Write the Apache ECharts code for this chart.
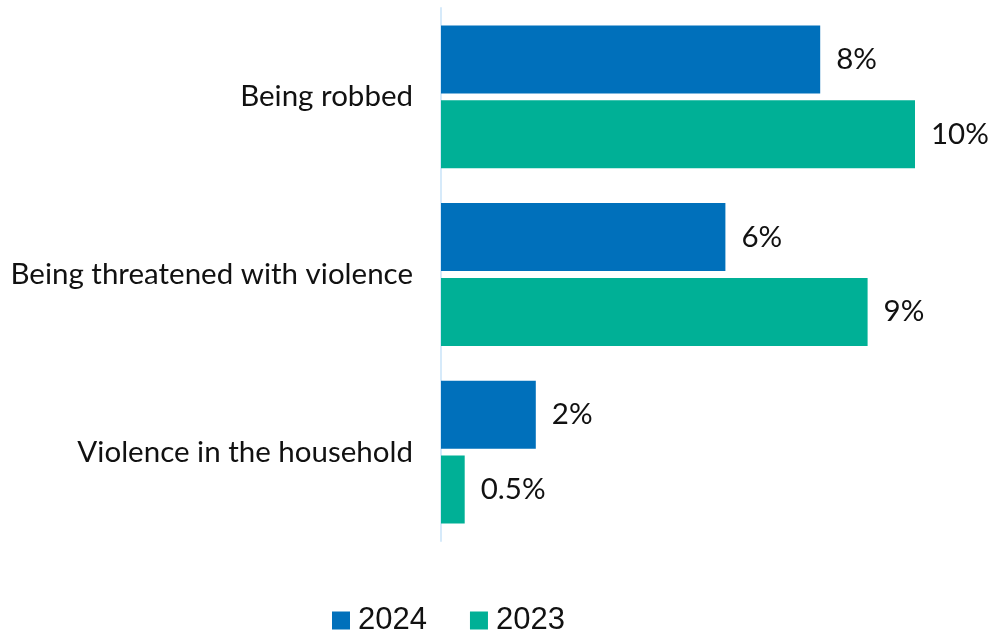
<!DOCTYPE html>
<html>
<head>
<meta charset="utf-8">
<script src="https://cdn.jsdelivr.net/npm/echarts@6/dist/echarts.min.js"></script>
<style>
  html, body { margin: 0; padding: 0; background: #fff; }
  #chart { width: 990px; height: 634px; }
</style>
</head>
<body>
<div id="chart"></div>
<script>
// Share of respondents reporting each incident type, by survey year (%)
const categories = ['Being robbed', 'Being threatened with violence', 'Violence in the household'];
const values2024 = [8, 6, 2];
const values2023 = [10, 9, 0.5];
const seriesNames = ['2024', '2023'];

const chart = echarts.init(document.getElementById('chart'));

const valueLabel = {
  show: true,
  position: 'right',
  distance: 16,
  fontFamily: 'Lato',
  fontSize: 29.5,
  color: '#111',
  formatter: p => p.value + '%'
};

chart.setOption({
  animation: false,
  grid: { left: 441, right: 75, top: 8, bottom: 93, containLabel: false },
  xAxis: {
    type: 'value',
    min: 0,
    max: 10,
    show: false
  },
  yAxis: {
    type: 'category',
    inverse: true,
    data: categories,
    axisLine: { show: true, lineStyle: { color: '#d6eafa', width: 2 } },
    axisTick: { show: false },
    axisLabel: {
      margin: 28,
      fontFamily: 'Lato',
      fontSize: 29.5,
      color: '#111'
    }
  },
  legend: {
    left: 332,
    top: 605,
    padding: 0,
    itemWidth: 18,
    itemHeight: 18,
    itemGap: 43,
    icon: 'rect',
    textStyle: { fontFamily: 'Liberation Sans', fontSize: 31, color: '#111', padding: [0, 0, 0, 3] },
    data: seriesNames
  },
  series: [
    {
      name: seriesNames[0],
      type: 'bar',
      data: values2024,
      barWidth: 68,
      barGap: '10%',
      itemStyle: { color: '#0070BB' },
      label: valueLabel
    },
    {
      name: seriesNames[1],
      type: 'bar',
      data: values2023,
      barWidth: 68,
      barGap: '10%',
      itemStyle: { color: '#00B096' },
      label: valueLabel
    }
  ]
});
</script>
</body>
</html>
